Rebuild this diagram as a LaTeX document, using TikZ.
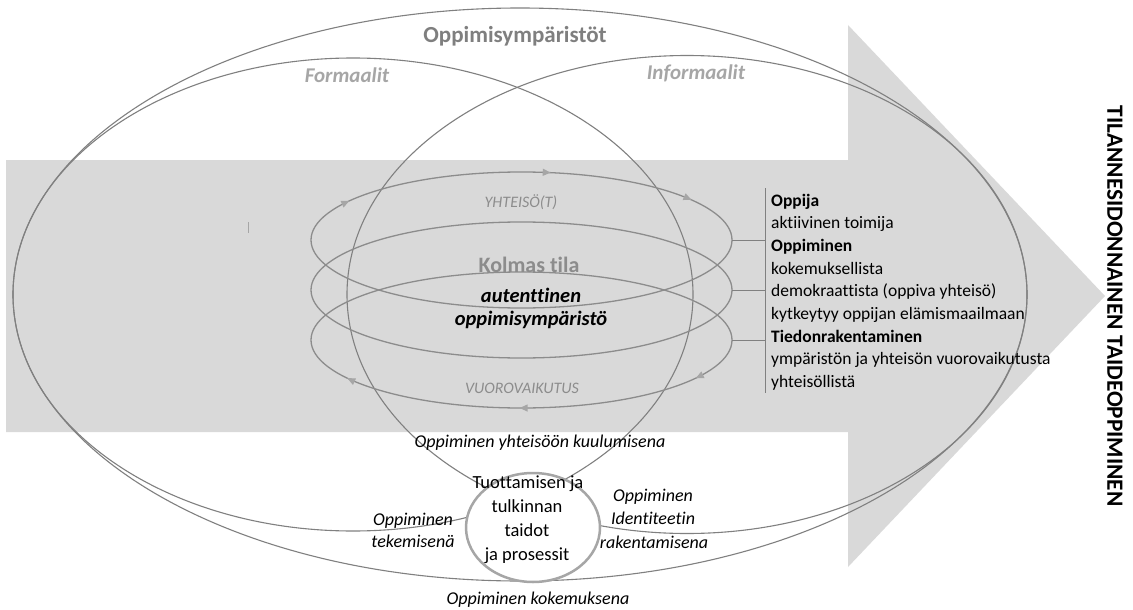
\documentclass[tikz,border=0pt]{standalone}
\usepackage{fontspec}
\setmainfont{Carlito}[Ligatures=NoCommon]
\usetikzlibrary{arrows.meta,decorations.markings}

\definecolor{bandgray}{HTML}{D9D9D9}
\definecolor{ringgray}{HTML}{808080}
\definecolor{loopgray}{HTML}{8C8C8C}
\definecolor{tipgray}{HTML}{A6A6A6}
\definecolor{circgray}{HTML}{A6A6A6}
\definecolor{titlegray}{HTML}{7F7F7F}
\definecolor{softgray}{HTML}{A6A6A6}
\definecolor{midgray}{HTML}{8C8C8C}

\tikzset{
  bigring/.style={draw=ringgray, line width=1.1pt},
  loopring/.style={draw=loopgray, line width=1.3pt},
  flowmark/.style={postaction={decorate, decoration={markings,
      mark=at position #1 with {\arrow[tipgray]{Triangle[length=8pt,width=7pt]}}}}},
  lbl/.style={inner sep=0pt, anchor=base},
  listline/.style={inner sep=0pt, anchor=base west, font=\fontsize{17.5}{21}\selectfont},
  body/.style={font=\fontsize{18.5}{21}\selectfont},
  bodyit/.style={font=\fontsize{18}{21}\selectfont\itshape},
}

\begin{document}
\begin{tikzpicture}[x=1pt,y=-1pt]
\useasboundingbox[fill=white] (0,0) rectangle (1133,610);

% broad arrow in the background
\fill[bandgray] (6,160) -- (848,160) -- (848,25) -- (1105,296) -- (848,567) -- (848,432) -- (6,432) -- cycle;

% learning environments: outer, formal and informal
\draw[bigring] (520,294.5) ellipse [x radius=507pt, y radius=286.5pt];
\draw[bigring] (353,294.5) ellipse [x radius=340pt, y radius=236.5pt];
\draw[bigring] (687,294.5) ellipse [x radius=340pt, y radius=239pt];

% spiral of community and interaction
\draw[loopring, flowmark=0.5617, flowmark=0.7813, flowmark=0.9357]
  (732,240) arc [start angle=360, end angle=0, x radius=210.5pt, y radius=68pt];
\draw[loopring] (732,290) arc [start angle=360, end angle=0, x radius=210.5pt, y radius=68pt];
\draw[loopring, flowmark=0.0593, flowmark=0.252, flowmark=0.4407]
  (732,340) arc [start angle=360, end angle=0, x radius=210.5pt, y radius=68pt];

% bracket joining the loops to the description list
\coordinate (loopA) at (732,240);
\coordinate (loopB) at (732,290);
\coordinate (loopC) at (732,340);
\coordinate (brA) at (765,240);
\coordinate (brB) at (765,290);
\coordinate (brC) at (765,340);
\coordinate (brTop) at (765,188);
\coordinate (brBot) at (765,393);
\draw[ringgray, line width=1pt] (brTop) -- (brBot);
\draw[ringgray, line width=1pt] (loopA) -- (brA);
\draw[ringgray, line width=1pt] (loopB) -- (brB);
\draw[ringgray, line width=1pt] (loopC) -- (brC);

% small stray mark
\draw[tipgray, line width=0.7pt] (248.5,222) -- (248.5,233);

% skills circle
\draw[draw=circgray, line width=2.5pt, fill=white] (533,527.5) ellipse [x radius=67pt, y radius=54.5pt];

% headings
\node[lbl, text=titlegray, font=\fontsize{23}{27}\selectfont\bfseries] (title) at (515,43) {Oppimisympäristöt};
\node[lbl, text=softgray, font=\fontsize{21}{25}\selectfont\bfseries\itshape] (formal) at (347,83) {Formaalit};
\node[lbl, text=softgray, font=\fontsize{21}{25}\selectfont\bfseries\itshape] (informal) at (696,80) {Informaalit};

% centre texts
\node[lbl, text=midgray, font=\fontsize{16}{19}\selectfont\itshape] (comm) at (521,207) {YHTEISÖ(T)};
\node[lbl, text=midgray, font=\fontsize{22}{26}\selectfont\bfseries] (third) at (529,272) {Kolmas tila};
\node[lbl, font=\fontsize{20.5}{24}\selectfont\bfseries\itshape] (auth1) at (531,302) {autenttinen};
\node[lbl, font=\fontsize{20.5}{24}\selectfont\bfseries\itshape] (auth2) at (531,325) {oppimisympäristö};
\node[lbl, text=midgray, font=\fontsize{16}{19}\selectfont\itshape] (inter) at (522,393) {VUOROVAIKUTUS};

% description list
\node[listline, font=\fontsize{17.5}{21}\selectfont\bfseries] (l1) at (771,206) {Oppija};
\node[listline] (l2) at (771,228.7) {aktiivinen toimija};
\node[listline, font=\fontsize{17.5}{21}\selectfont\bfseries] (l3) at (771,251.4) {Oppiminen};
\node[listline] (l4) at (771,274.1) {kokemuksellista};
\node[listline] (l5) at (771,296.8) {demokraattista (oppiva yhteisö)};
\node[listline] (l6) at (771,319.5) {kytkeytyy oppijan elämismaailmaan};
\node[listline, font=\fontsize{17.5}{21}\selectfont\bfseries] (l7) at (771,342.2) {Tiedonrakentaminen};
\node[listline] (l8) at (771,364.9) {ympäristön ja yhteisön vuorovaikutusta};
\node[listline] (l9) at (771,387.6) {yhteisöllistä};

% circle text
\node[lbl, body] (c1) at (528,488) {Tuottamisen ja};
\node[lbl, body] (c2) at (527,512) {tulkinnan};
\node[lbl, body] (c3) at (527,536) {taidot};
\node[lbl, body] (c4) at (527,560) {ja prosessit};

% ways of learning
\node[lbl, bodyit] (belong) at (540,447) {Oppiminen yhteisöön kuulumisena};
\node[lbl, bodyit] (doing1) at (413,525) {Oppiminen};
\node[lbl, bodyit] (doing2) at (413,547) {tekemisenä};
\node[lbl, bodyit] (ident1) at (653,501) {Oppiminen};
\node[lbl, bodyit] (ident2) at (653,524) {Identiteetin};
\node[lbl, bodyit] (ident3) at (654,548) {rakentamisena};
\node[lbl, bodyit] (exper) at (538,604) {Oppiminen kokemuksena};

% side title
\node[inner sep=0pt, rotate=-90, font=\fontsize{23.3}{27}\selectfont\bfseries] (side) at (1115,306) {TILANNESIDONNAINEN TAIDEOPPIMINEN};
\end{tikzpicture}
\end{document}
